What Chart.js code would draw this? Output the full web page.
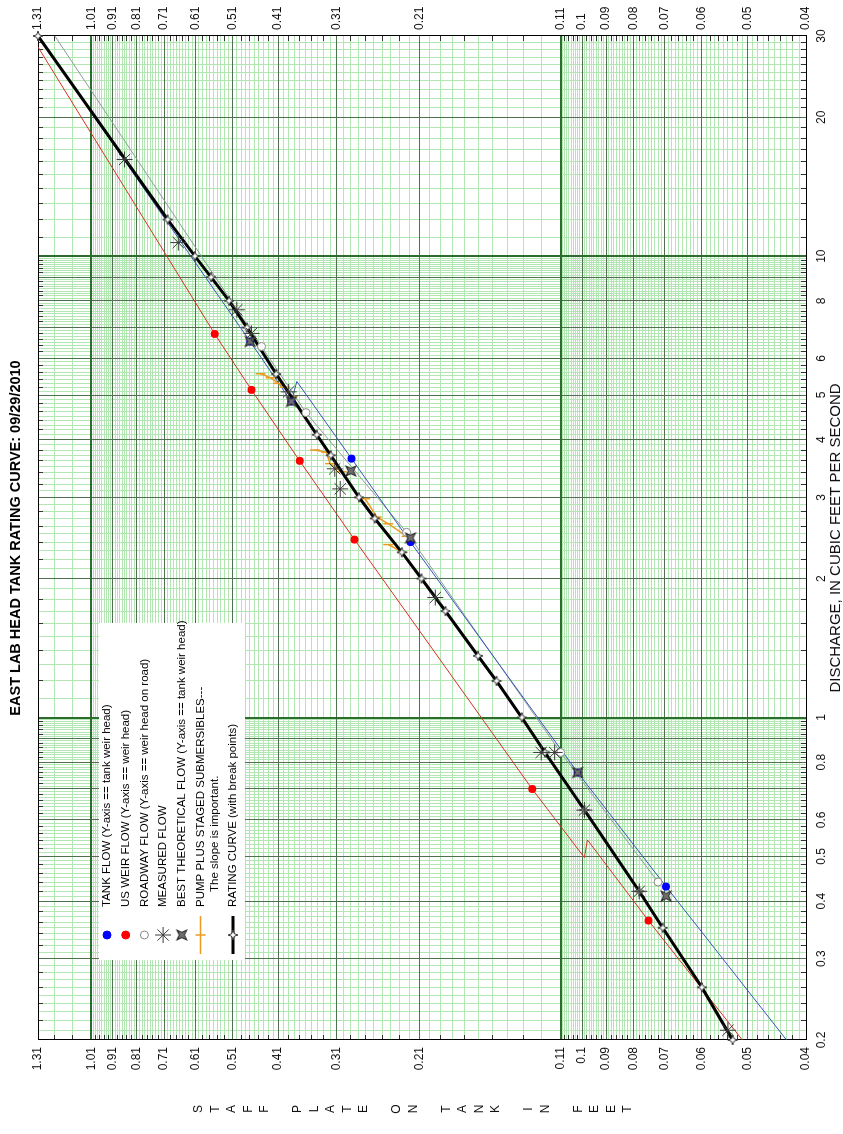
<!DOCTYPE html>
<html>
<head>
<meta charset="utf-8">
<title>East Lab Head Tank Rating Curve</title>
<script src="https://cdn.jsdelivr.net/npm/chart.js@4.4.1/dist/chart.umd.min.js"></script>
<style>
  html, body { margin: 0; padding: 0; background: #fff; overflow: hidden; width: 843px; height: 1134px; }
  /* The sheet is laid out landscape and turned a quarter turn counter-clockwise */
  #sheet { position: absolute; left: 0; top: 0; width: 1134px; height: 843px;
           transform-origin: 0 0; transform: translate(0px, 1134px) rotate(-90deg); }
  #chart { display: block; }
</style>
</head>
<body>
<div id="sheet"><canvas id="chart" width="1134" height="843"></canvas></div>
<script>
// Stage axis is log-scaled on (stage - offset), the usual gage-height offset
const GAGE_OFFSET = 0.01;

// Axis labels
const dischargeTicks = [0.2, 0.3, 0.4, 0.5, 0.6, 0.8, 1, 2, 3, 4, 5, 6, 8, 10, 20, 30];
const stageTicks = [1.31, 1.01, 0.91, 0.81, 0.71, 0.61, 0.51, 0.41, 0.31, 0.21,
                    0.11, 0.1, 0.09, 0.08, 0.07, 0.06, 0.05, 0.04];

// Rating curve break points: discharge (cfs) and stage (ft)
const ratingQ = [30, 12, 10, 9, 8, 7, 5.55, 4.1, 3.7, 3.0, 2.7, 2.28, 2.0, 1.7, 1.36, 1.2, 1.0, 0.84, 0.63, 0.42, 0.35, 0.26, 0.2];
const ratingH = [1.31, 0.698, 0.612, 0.566, 0.519, 0.476, 0.414, 0.341, 0.319, 0.279, 0.259, 0.228, 0.208, 0.186, 0.160, 0.147, 0.131, 0.118, 0.099, 0.078, 0.0706, 0.060, 0.053];

// Tank flow (Y-axis == tank weir head)
const tankQ = [6.53, 4.84, 3.64, 2.40, 0.76, 0.43];
const tankH = [0.469, 0.385, 0.289, 0.219, 0.102, 0.0696];
const tankLineQ = [30, 6.53, 4.84, 5.35, 3.64, 2.40, 0.76, 0.43, 0.2];
const tankLineH = [1.31, 0.469, 0.385, 0.375, 0.289, 0.219, 0.102, 0.0696, 0.043];

// US weir flow (Y-axis == weir head)
const weirQ = [6.78, 5.13, 3.60, 2.43, 0.70, 0.363];
const weirH = [0.556, 0.466, 0.370, 0.285, 0.125, 0.075];
const weirLineQ = [28.4, 6.78, 5.13, 3.60, 2.43, 0.70, 0.497, 0.543, 0.363, 0.2];
const weirLineH = [1.31, 0.556, 0.466, 0.370, 0.285, 0.125, 0.099, 0.0977, 0.075, 0.051];

// Roadway flow (Y-axis == weir head on road)
const roadQ = [6.37, 4.58, 2.52, 0.84, 0.44];
const roadH = [0.444, 0.359, 0.223, 0.110, 0.072];
const roadLineQ = [30, 6.37, 4.58, 2.52, 0.84, 0.44];
const roadLineH = [1.207, 0.444, 0.359, 0.223, 0.110, 0.072];

// Measured flow
const measQ = [16.2, 10.7, 7.65, 6.8, 5.08, 3.46, 3.13, 1.82, 0.84, 0.84, 0.63, 0.42, 0.21];
const measH = [0.86, 0.663, 0.500, 0.466, 0.390, 0.313, 0.305, 0.195, 0.120, 0.113, 0.099, 0.078, 0.054];

// Best theoretical flow (Y-axis == tank weir head)
const bestQ = [6.53, 4.84, 3.42, 2.45, 0.76, 0.41];
const bestH = [0.469, 0.385, 0.290, 0.219, 0.102, 0.0696];

// Pump plus staged submersibles (null separates runs)
const pumpQ = [5.56, 5.45, 5.3, 5.2, 4.95, null, 3.8, 3.76, 3.55, 3.41, null, 2.98, 2.72, 2.63, 2.47, null, 2.37, 2.28];
const pumpH = [0.446, 0.425, 0.41, 0.397, 0.383, null, 0.344, 0.326, 0.32, 0.303, null, 0.271, 0.2565, 0.243, 0.223, null, 0.243, 0.227];

const FONT = '"Liberation Sans", Arial, Helvetica, sans-serif';
Chart.defaults.font.family = FONT;
Chart.defaults.color = '#111';

const toPts = (qs, hs) => qs.map((q, i) =>
  (q === null || hs[i] === null) ? { x: NaN, y: NaN } : { x: q, y: hs[i] - GAGE_OFFSET });

const stageLabel = v => String(parseFloat((v + GAGE_OFFSET).toFixed(2)));

// Four-point star markers
function makeStar(size, rOut, rIn, rot, fill, stroke) {
  const c = document.createElement('canvas');
  c.width = c.height = size;
  const g = c.getContext('2d');
  g.translate(size / 2, size / 2);
  g.rotate(rot);
  g.beginPath();
  for (let i = 0; i < 8; i++) {
    const r = i % 2 ? rIn : rOut;
    const a = i * Math.PI / 4 - Math.PI / 2;
    g.lineTo(r * Math.cos(a), r * Math.sin(a));
  }
  g.closePath();
  g.fillStyle = fill; g.fill();
  g.lineWidth = 1; g.strokeStyle = stroke; g.stroke();
  return c;
}
const bestMarker = makeStar(16, 7, 2.6, Math.PI / 4, '#6e6e6e', '#2b2b2b');
const ratingMarker = makeStar(12, 5, 1.8, 0, '#ffffff', '#3a3a3a');

// Log-paper rulings: every tenth of a decade step, heavier at whole multiples and decades
function paperLines(min, max) {
  const out = [];
  const topDecade = Math.pow(10, Math.floor(Math.log10(max) + 1e-9));
  for (let k = Math.floor(Math.log10(min) + 1e-9); Math.pow(10, k) <= max * (1 + 1e-9); k++) {
    const b = Math.pow(10, k);
    for (let m = 10; m < 100; m++) {
      const v = parseFloat((m * b / 10).toPrecision(8));
      if (v < min * (1 - 1e-9) || v > max * (1 + 1e-9)) continue;
      const kind = m === 10 ? 'major' : (m % 10 === 0 ? 'medium' : 'minor');
      const edge = Math.abs(v - min) < min * 1e-6 || Math.abs(v - max) < max * 1e-6;
      const tick = kind === 'minor' && (b === topDecade || m % 2 === 0);
      out.push({ v, kind, edge, tick });
    }
  }
  return out;
}
const crisp = (p, w) => (w % 2 ? Math.round(p - 0.5) + 0.5 : Math.round(p));

const paperPlugin = {
  id: 'logPaper',
  beforeDatasetsDraw(chart) {
    const { ctx, chartArea: a, scales } = chart;
    const xs = scales.x, ys = scales.y;
    const xv = paperLines(xs.min, xs.max);
    const yv = paperLines(ys.min, ys.max);
    ctx.save();
    ctx.fillStyle = '#fff';
    ctx.fillRect(a.left, a.top, a.right - a.left, a.bottom - a.top);
    const passes = [['minor', 1, '#b2e6b2'], ['medium', 1, '#4f714f'], ['major', 2, '#2c6c2c']];
    for (const [kind, w, col] of passes) {
      ctx.strokeStyle = col; ctx.lineWidth = w; ctx.beginPath();
      for (const t of xv) if (t.kind === kind && !t.edge) {
        const p = crisp(xs.getPixelForValue(t.v), w);
        ctx.moveTo(p, a.top); ctx.lineTo(p, a.bottom);
      }
      for (const t of yv) if (t.kind === kind && !t.edge) {
        const p = crisp(ys.getPixelForValue(t.v), w);
        ctx.moveTo(a.left, p); ctx.lineTo(a.right, p);
      }
      ctx.stroke();
    }
    // short inner tick marks on all four sides
    const len = 5;
    ctx.strokeStyle = '#333'; ctx.lineWidth = 1; ctx.beginPath();
    for (const t of xv) if (t.tick && !t.edge) {
      const p = crisp(xs.getPixelForValue(t.v), 1);
      ctx.moveTo(p, a.top); ctx.lineTo(p, a.top + len);
      ctx.moveTo(p, a.bottom); ctx.lineTo(p, a.bottom - len);
    }
    for (const t of yv) if (t.tick && !t.edge) {
      const p = crisp(ys.getPixelForValue(t.v), 1);
      ctx.moveTo(a.left, p); ctx.lineTo(a.left + len, p);
      ctx.moveTo(a.right, p); ctx.lineTo(a.right - len, p);
    }
    ctx.stroke();
    ctx.strokeStyle = '#000'; ctx.lineWidth = 1;
    ctx.strokeRect(crisp(a.left, 1), crisp(a.top, 1), Math.round(a.right - a.left), Math.round(a.bottom - a.top));
    ctx.restore();
  }
};

// Key box in the upper left of the plot
const keyRows = [
  { ds: 2, dy: 8 }, { ds: 3, dy: 26.7 }, { ds: 4, dy: 45.4 }, { ds: 0, dy: 64.1 },
  { ds: 1, dy: 82.8 }, { ds: 6, dy: 101.5, line: true },
  { text: 'The slope is important.', dy: 116, indent: 15 },
  { ds: 5, dy: 134, line: true }
];
const keyPlugin = {
  id: 'keyBox',
  afterDatasetsDraw(chart) {
    const { ctx, chartArea: a } = chart;
    const sets = chart.data.datasets;
    const left = a.left + 80, top = a.top + 61;
    ctx.save();
    ctx.fillStyle = '#fff';
    ctx.fillRect(left, top, 337, 146);
    const mx = left + 25, tx = left + 53;
    ctx.font = '11.5px ' + FONT;
    ctx.textBaseline = 'middle'; ctx.textAlign = 'left';
    for (const r of keyRows) {
      const y = top + r.dy;
      if (r.text) { ctx.fillStyle = '#000'; ctx.fillText(r.text, tx + r.indent, y); continue; }
      const d = sets[r.ds];
      if (r.line) {
        ctx.strokeStyle = d.borderColor; ctx.lineWidth = d.borderWidth;
        ctx.beginPath(); ctx.moveTo(left + 6, y); ctx.lineTo(left + 44, y); ctx.stroke();
      }
      ctx.fillStyle = d.pointBackgroundColor || d.backgroundColor;
      ctx.strokeStyle = d.pointBorderColor || d.borderColor;
      ctx.lineWidth = d.pointBorderWidth || 1;
      Chart.helpers.drawPoint(ctx, {
        pointStyle: d.pointStyle, radius: d.pointRadius, rotation: d.pointRotation || 0,
        borderWidth: d.pointBorderWidth || 1
      }, mx, y);
      ctx.fillStyle = '#000';
      ctx.fillText(d.label, tx, y);
    }
    ctx.restore();
  }
};

// Stage axis title written as a column of letters
const stageTitle = 'STAFF PLATE ON TANK IN FEET';
const stackedTitlePlugin = {
  id: 'stackedTitle',
  afterDraw(chart) {
    const { ctx, chartArea: a } = chart;
    ctx.save();
    ctx.font = '12px ' + FONT;
    ctx.fillStyle = '#111';
    ctx.textAlign = 'center'; ctx.textBaseline = 'middle';
    [...stageTitle].forEach((ch, i) => ctx.fillText(ch, 25, a.top + 161 + i * 16.5));
    ctx.restore();
  }
};

const stageAxis = (position, width, pad) => ({
  type: 'logarithmic', position,
  min: 0.04 - GAGE_OFFSET, max: 1.31 - GAGE_OFFSET,
  afterBuildTicks: s => { s.ticks = stageTicks.map(v => ({ value: v - GAGE_OFFSET })); },
  afterFit: s => { s.width = width; },
  grid: { display: false, drawTicks: false }, border: { display: false },
  ticks: { autoSkip: false, padding: pad, font: { size: 12 }, color: '#111', callback: v => stageLabel(v) }
});

new Chart(document.getElementById('chart'), {
  type: 'scatter',
  data: {
    datasets: [
      { label: 'MEASURED FLOW', data: toPts(measQ, measH), showLine: false,
        pointStyle: 'star', pointRadius: 8, pointBorderWidth: 1, borderColor: '#3a3a3a', backgroundColor: '#3a3a3a', clip: false },
      { label: 'BEST THEORETICAL FLOW (Y-axis == tank weir head)', data: toPts(bestQ, bestH), showLine: false,
        pointStyle: bestMarker, pointRadius: 7, borderColor: '#2b2b2b', backgroundColor: '#6e6e6e', clip: false },
      { label: 'TANK FLOW (Y-axis == tank weir head)', data: toPts(tankQ, tankH), showLine: false,
        pointStyle: 'circle', pointRadius: 4, pointBorderWidth: 0, borderColor: '#0000ff', backgroundColor: '#0000ff', clip: false },
      { label: 'US WEIR FLOW (Y-axis == weir head)', data: toPts(weirQ, weirH), showLine: false,
        pointStyle: 'circle', pointRadius: 4, pointBorderWidth: 0, borderColor: '#ff0000', backgroundColor: '#ff0000', clip: false },
      { label: 'ROADWAY FLOW (Y-axis == weir head on road)', data: toPts(roadQ, roadH), showLine: false,
        pointStyle: 'circle', pointRadius: 4, pointBorderWidth: 1, borderColor: '#8a8a8a', backgroundColor: '#ffffff', clip: false },
      { label: 'RATING CURVE (with break points)', data: toPts(ratingQ, ratingH), showLine: true,
        borderColor: '#000000', borderWidth: 3, backgroundColor: '#ffffff',
        pointStyle: ratingMarker, pointRadius: 5, clip: false },
      { label: 'PUMP PLUS STAGED SUBMERSIBLES---', data: toPts(pumpQ, pumpH), showLine: true, spanGaps: false,
        borderColor: '#eb9a22', borderWidth: 1.5, backgroundColor: '#eb9a22',
        pointStyle: 'line', pointRotation: 90, pointRadius: 5, pointBorderWidth: 1.5 },
      { label: 'tank rating', data: toPts(tankLineQ, tankLineH), showLine: true,
        borderColor: '#3556b8', borderWidth: 1, pointRadius: 0 },
      { label: 'roadway rating', data: toPts(roadLineQ, roadLineH), showLine: true,
        borderColor: '#8c9c9c', borderWidth: 1, pointRadius: 0 },
      { label: 'weir rating', data: toPts(weirLineQ, weirLineH), showLine: true,
        borderColor: '#d2331f', borderWidth: 1, pointRadius: 0 }
    ]
  },
  options: {
    responsive: false,
    animation: false,
    devicePixelRatio: 1,
    events: [],
    layout: { padding: 0 },
    plugins: {
      legend: { display: false },
      tooltip: { enabled: false },
      title: {
        display: true, fullSize: false,
        text: 'EAST LAB HEAD TANK RATING CURVE: 09/29/2010',
        color: '#000', font: { size: 14.5, weight: 'bold', lineHeight: 1.2 },
        padding: { top: 7, bottom: 13.6 }
      }
    },
    scales: {
      x: {
        type: 'logarithmic', position: 'bottom', min: 0.2, max: 30,
        afterBuildTicks: s => { s.ticks = dischargeTicks.map(v => ({ value: v })); },
        afterFit: s => { s.height = 37; },
        grid: { display: false, drawTicks: false }, border: { display: false },
        ticks: { autoSkip: false, maxRotation: 0, minRotation: 0, padding: 8, font: { size: 12 }, color: '#111',
                 callback: v => String(v) },
        title: { display: true, text: 'DISCHARGE, IN CUBIC FEET PER SECOND', color: '#111',
                 font: { size: 15, lineHeight: 1 }, padding: { top: 0, bottom: 0 } }
      },
      y: stageAxis('left', 94, 7),
      y2: stageAxis('right', 36, 6)
    }
  },
  plugins: [paperPlugin, keyPlugin, stackedTitlePlugin]
});
</script>
</body>
</html>
